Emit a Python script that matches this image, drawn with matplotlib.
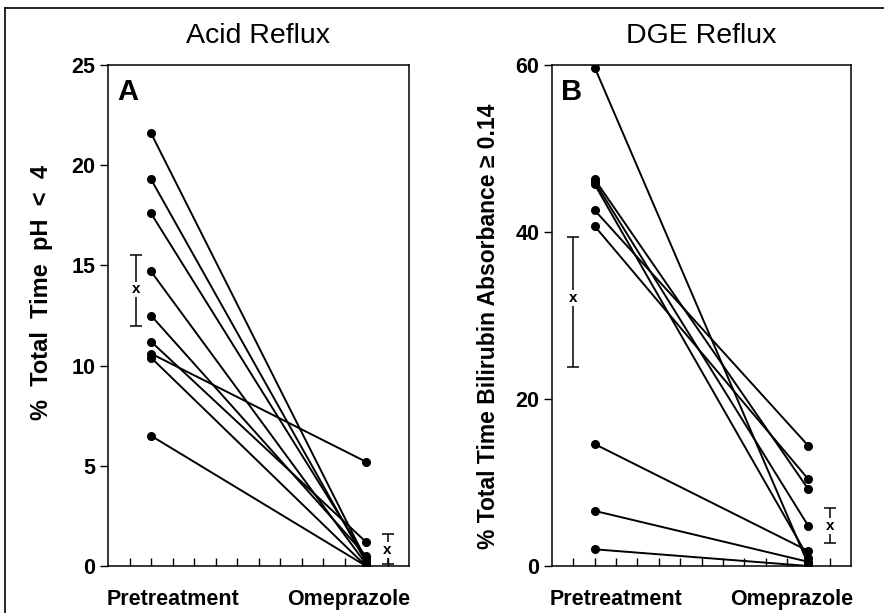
import numpy as np
import matplotlib
matplotlib.use('Agg')
import matplotlib.pyplot as plt
from matplotlib.lines import Line2D

# Acid reflux (% time pH < 4), paired per patient
acid_pre = [21.6, 19.3, 17.6, 14.7, 12.5, 11.2, 10.6, 10.4, 6.5]
acid_ome = [0.3, 0.2, 0.4, 0.1, 0.5, 1.2, 5.2, 0.0, 0.0]
acid_pre_mean, acid_pre_lo, acid_pre_hi = 13.8, 12.0, 15.5
acid_ome_mean, acid_ome_lo, acid_ome_hi = 0.8, 0.1, 1.6

# DGE reflux (% time bilirubin absorbance >= 0.14)
dge_pre = [59.7, 46.3, 46.0, 45.7, 42.6, 40.7, 14.6, 6.6, 2.0]
dge_ome = [0.2, 9.2, 4.8, 1.0, 14.4, 10.4, 1.8, 0.5, 0.0]
dge_pre_mean, dge_pre_lo, dge_pre_hi = 32.1, 23.8, 39.4
dge_ome_mean, dge_ome_lo, dge_ome_hi = 4.8, 2.7, 7.0

groups = ['Pretreatment', 'Omeprazole']
x_pre, x_ome = 2, 12

bold = {'family': ['Liberation Sans', 'DejaVu Sans'], 'weight': 'bold'}
plain = ['Liberation Sans', 'DejaVu Sans']

fig = plt.figure(figsize=(8.84, 6.13), dpi=100)
W, H = 884, 613


def panel(rect, pre, ome, yticks, ylim, ylabel, title, letter,
          pre_stats, ome_stats, pre_bar_x, ylabel_xy, ylabel_size):
    ax = fig.add_axes(rect)
    for a, b in zip(pre, ome):
        ax.plot([x_pre, x_ome], [a, b], color='black', lw=1.4,
                marker='o', ms=5.5, solid_capstyle='round')
    # mean +/- SE bars with an x at the mean
    for xb, (m, lo, hi) in [(pre_bar_x, pre_stats), (13, ome_stats)]:
        ax.errorbar([xb], [m], yerr=[[m - lo], [hi - m]], fmt='none',
                    ecolor='black', elinewidth=1.1, capsize=4, capthick=1.1)
        ax.text(xb, m, 'x', ha='center', va='center', fontsize=11,
                fontweight='bold', family=bold['family'],
                bbox=dict(boxstyle='square,pad=0.05', fc='white', ec='none'))
    ax.set_xlim(0, 14)
    ax.set_ylim(*ylim)
    ax.set_xticks(range(1, 14))
    ax.set_xticklabels([])
    ax.tick_params(axis='x', direction='in', length=6, width=1)
    ax.set_yticks(yticks)
    ax.set_yticklabels([str(t) for t in yticks], fontdict=dict(size=15.5, **bold))
    ax.tick_params(axis='y', direction='out', length=6, width=1, pad=3)
    for s in ax.spines.values():
        s.set_linewidth(1.1)
    ax.text(0.03, 0.975, letter, transform=ax.transAxes, ha='left', va='top',
            fontsize=21, **bold)
    ax.text(0.215, -0.045, groups[0], transform=ax.transAxes, ha='center',
            va='top', fontsize=15.5, **bold)
    ax.text(0.8, -0.045, groups[1], transform=ax.transAxes, ha='center',
            va='top', fontsize=15.5, **bold)
    ax.set_title(title, fontsize=20.5, family=plain, pad=16)
    fig.text(ylabel_xy[0] / W, 1 - ylabel_xy[1] / H, ylabel, rotation=90,
             ha='center', va='center', fontsize=ylabel_size, **bold)
    return ax


panel([108 / W, 47 / H, 301 / W, 501 / H], acid_pre, acid_ome,
      [0, 5, 10, 15, 20, 25], (0, 25), '%  Total  Time  pH  <  4',
      'Acid Reflux', 'A',
      (acid_pre_mean, acid_pre_lo, acid_pre_hi),
      (acid_ome_mean, acid_ome_lo, acid_ome_hi), 1.3, (42, 293), 17)

panel([552 / W, 47 / H, 299 / W, 501 / H], dge_pre, dge_ome,
      [0, 20, 40, 60], (0, 60),
      '% Total Time Bilirubin Absorbance \u2265 0.14',
      'DGE Reflux', 'B',
      (dge_pre_mean, dge_pre_lo, dge_pre_hi),
      (dge_ome_mean, dge_ome_lo, dge_ome_hi), 1.0, (488, 326), 16.5)

# outer frame (left and top edges only)
fig.add_artist(Line2D([5 / W, 5 / W], [0, 1 - 8 / H], color='black', lw=1.2))
fig.add_artist(Line2D([5 / W, 1], [1 - 8 / H, 1 - 8 / H], color='black', lw=1.2))

fig.savefig('out.png', dpi=100)
